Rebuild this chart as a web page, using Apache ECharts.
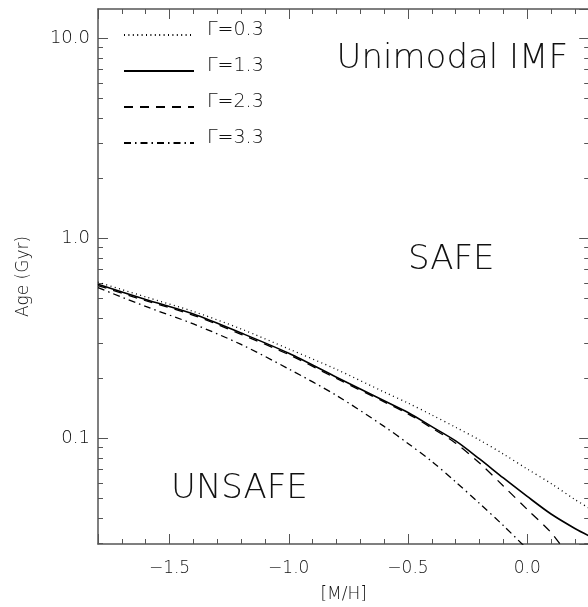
<!DOCTYPE html>
<html>
<head>
<meta charset="utf-8">
<script src="https://cdn.jsdelivr.net/npm/echarts@6/dist/echarts.min.js"></script>
<style>html,body{margin:0;padding:0;background:#fff}#c{width:588px;height:607px}</style>
</head>
<body>
<div id="c"></div>
<script>
// ---- data ----
const mhA   = [-1.8,-1.6,-1.4,-1.2,-1.0,-0.8,-0.6,-0.5,-0.4,-0.3,-0.2,-0.1,0.0,0.1,0.2,0.26];
const ageG03 = [0.603,0.509,0.4305,0.352,0.2796,0.221,0.1703,0.150,0.1307,0.1135,0.098,0.0834,0.0702,0.0594,0.0494,0.0447];
const ageG13 = [0.589,0.494,0.418,0.336,0.266,0.202,0.154,0.1345,0.1143,0.097,0.0788,0.0633,0.0512,0.0418,0.0354,0.0325];
const mhB   = [-1.8,-1.6,-1.4,-1.2,-1.0,-0.8,-0.6,-0.5,-0.4,-0.3,-0.2,-0.1,0.0,0.1,0.15];
const ageG23 = [0.58,0.487,0.412,0.331,0.262,0.199,0.152,0.1325,0.1125,0.0945,0.0752,0.0577,0.0441,0.0338,0.0282];
const mhC   = [-1.8,-1.6,-1.4,-1.2,-1.0,-0.8,-0.6,-0.5,-0.4,-0.3,-0.2,-0.1,0.0];
const ageG33 = [0.566,0.456,0.3727,0.2944,0.222,0.1637,0.1146,0.0942,0.0766,0.0605,0.0472,0.0366,0.0279];
const seriesNames = ['\u0393=0.3','\u0393=1.3','\u0393=2.3','\u0393=3.3'];
const yMinorTicks = [0.03,0.04,0.05,0.06,0.07,0.08,0.09,0.2,0.3,0.4,0.5,0.6,0.7,0.8,0.9,2,3,4,5,6,7,8,9];
const X_MIN = -1.8, X_MAX = 0.26, Y_MIN = 0.0296, Y_MAX = 14.0;

const FONT = 'DejaVu Sans';
const TXT = '#111';
const AX = '#555';
const FW = 200;

function zip(xs, ys){ return xs.map((x,i)=>[x, ys[i]]); }
function xLabel(v){
  const r = Math.round(v*2)/2;
  if (Math.abs(v - r) > 1e-6) return '';
  if (Math.abs(r) < 1e-9) return '0.0';
  return r.toFixed(1).replace('-', '\u2212');
}
function yLabel(v){
  const l = Math.log10(v);
  if (Math.abs(l - Math.round(l)) > 1e-6) return '';
  return v.toFixed(1);
}

const chart = echarts.init(document.getElementById('c'), null, {renderer:'canvas'});

const lineCommon = {type:'line', symbol:'none', showSymbol:false, smooth:0.3, xAxisIndex:0, yAxisIndex:0};

const option = {
  animation:false,
  backgroundColor:'#fff',
  grid:{left:98, right:-1.2, top:9, bottom:63, containLabel:false, outerBoundsMode:'none'},
  legend:{
    orient:'vertical', left:123, top:21, padding:0,
    itemWidth:70, itemHeight:14, itemGap:12,
    data:seriesNames,
    itemStyle:{opacity:0},
    formatter:function(n){ return '{a|' + n + '}\n{b| }'; },
    textStyle:{fontFamily:FONT, fontSize:19, fontWeight:FW, color:TXT,
      rich:{a:{fontFamily:FONT, fontSize:19, fontWeight:FW, color:TXT, padding:[0,0,0,8]},
            b:{fontSize:1, lineHeight:9}}},
    selectedMode:false
  },
  xAxis:[
    {type:'value', min:X_MIN, max:X_MAX, position:'bottom',
     name:'[M/H]', nameLocation:'middle', nameGap:42,
     nameTextStyle:{fontFamily:FONT, fontSize:17, fontWeight:FW, color:TXT},
     axisLine:{show:true, onZero:false, lineStyle:{color:AX, width:1.5}},
     axisTick:{show:true, inside:true, length:10, lineStyle:{color:AX, width:1}},
     minorTick:{show:true, splitNumber:5, length:5, lineStyle:{color:AX, width:1}},
     splitLine:{show:false}, minorSplitLine:{show:false},
     axisLabel:{fontFamily:FONT, fontSize:17, fontWeight:FW, color:TXT, margin:16, formatter:xLabel, showMinLabel:false, showMaxLabel:false}
    },
    {type:'value', min:X_MIN, max:X_MAX, position:'top',
     axisLine:{show:true, onZero:false, lineStyle:{color:AX, width:1.5}},
     axisTick:{show:true, inside:true, length:10, lineStyle:{color:AX, width:1}},
     minorTick:{show:true, splitNumber:5, length:5, lineStyle:{color:AX, width:1}},
     splitLine:{show:false}, axisLabel:{show:false}
    }
  ],
  yAxis:[
    {type:'log', logBase:10, min:Y_MIN, max:Y_MAX, position:'left',
     name:'Age (Gyr)', nameLocation:'middle', nameGap:66, nameRotate:90,
     nameTextStyle:{fontFamily:FONT, fontSize:17, fontWeight:FW, color:TXT},
     axisLine:{show:true, onZero:false, lineStyle:{color:AX, width:1.5}},
     axisTick:{show:true, inside:true, length:10, lineStyle:{color:AX, width:1}},
     splitLine:{show:false},
     axisLabel:{fontFamily:FONT, fontSize:18, fontWeight:FW, color:TXT, margin:8, formatter:yLabel, showMinLabel:false, showMaxLabel:false}
    },
    {type:'log', logBase:10, min:Y_MIN, max:Y_MAX, position:'right',
     axisLine:{show:true, onZero:false, lineStyle:{color:AX, width:1.5}},
     axisTick:{show:true, inside:true, length:10, lineStyle:{color:AX, width:1}},
     splitLine:{show:false}, axisLabel:{show:false}
    }
  ],
  graphic:[
    {type:'text', right:20, top:42, style:{text:'Unimodal IMF', font:'200 34px "DejaVu Sans"', fill:TXT}},
    {type:'text', left:408, top:243, style:{text:'SAFE', font:'200 34px "DejaVu Sans"', fill:TXT}},
    {type:'text', left:171, top:472, style:{text:'UNSAFE', font:'200 34px "DejaVu Sans"', fill:TXT}}
  ],
  series:[
    Object.assign({}, lineCommon, {name:seriesNames[0], data:zip(mhA, ageG03),
      lineStyle:{color:'#000', width:1.3, type:[1,3.4]}, itemStyle:{color:'#000'}}),
    Object.assign({}, lineCommon, {name:seriesNames[1], data:zip(mhA, ageG13),
      lineStyle:{color:'#000', width:1.6, type:'solid'}, itemStyle:{color:'#000'}}),
    Object.assign({}, lineCommon, {name:seriesNames[2], data:zip(mhB, ageG23),
      lineStyle:{color:'#000', width:1.3, type:[9,7]}, itemStyle:{color:'#000'}}),
    Object.assign({}, lineCommon, {name:seriesNames[3], data:zip(mhC, ageG33),
      lineStyle:{color:'#000', width:1.3, type:[7,4,1.5,4]}, itemStyle:{color:'#000'}}),
    {type:'custom', name:'yminor', silent:true, xAxisIndex:0, yAxisIndex:0, clip:false,
     data: yMinorTicks.map(v=>[X_MIN, v]),
     renderItem:function(params, api){
       const p = api.coord([X_MIN, api.value(1)]);
       const cs = params.coordSys;
       const y = Math.round(p[1]) + 0.5;
       return {type:'group', children:[
         {type:'line', shape:{x1:cs.x, y1:y, x2:cs.x+5, y2:y}, style:{stroke:AX, lineWidth:1}},
         {type:'line', shape:{x1:cs.x+cs.width-5, y1:y, x2:cs.x+cs.width, y2:y}, style:{stroke:AX, lineWidth:1}}
       ]};
     }
    }
  ]
};
chart.setOption(option);
</script>
</body>
</html>
